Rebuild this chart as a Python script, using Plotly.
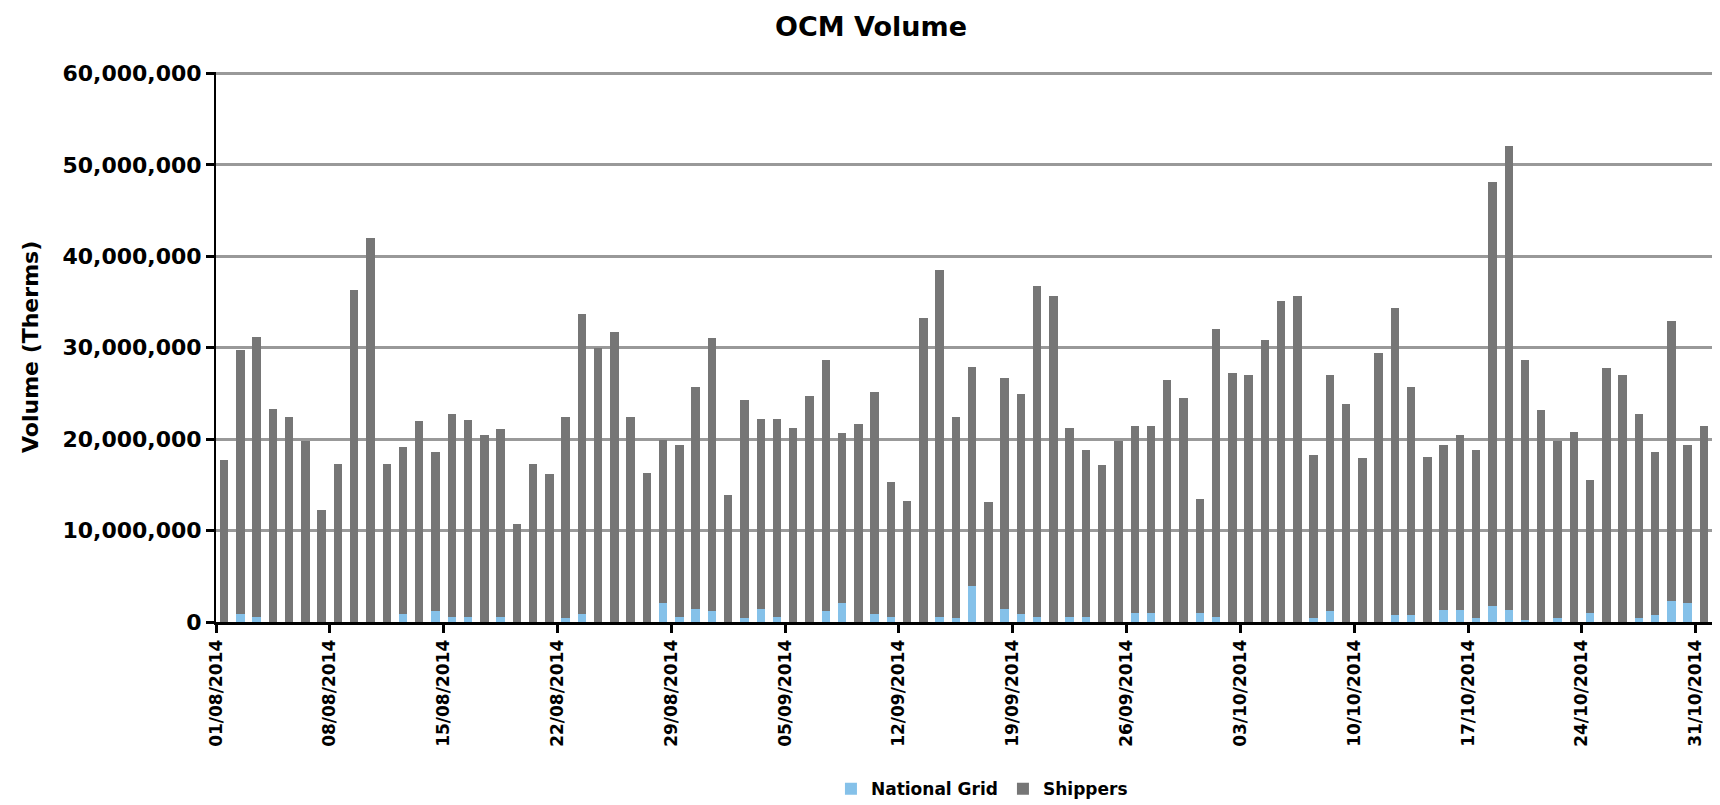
import datetime as dt
import plotly.graph_objects as go

# ---- data (millions of therms) ----
start = dt.date(2014, 8, 1)
n_days = 92
dates = [(start + dt.timedelta(days=i)).isoformat() for i in range(n_days)]

total_m = [
    # August
    17.7, 29.7, 31.2, 23.3, 22.4, 19.8, 12.2, 17.3, 36.3, 42.0,
    17.3, 19.1, 22.0, 18.6, 22.7, 22.1, 20.4, 21.1, 10.7, 17.3,
    16.2, 22.4, 33.7, 30.0, 31.7, 22.4, 16.3, 19.9, 19.4, 25.7, 31.1,
    # September
    13.9, 24.3, 22.2, 22.2, 21.2, 24.7, 28.7, 20.7, 21.6, 25.1,
    15.3, 13.2, 33.2, 38.5, 22.4, 27.9, 13.1, 26.7, 24.9, 36.7,
    35.7, 21.2, 18.8, 17.2, 19.8, 21.4, 21.4, 26.5, 24.5, 13.5,
    # October
    32.0, 27.2, 27.0, 30.8, 35.1, 35.7, 18.3, 27.0, 23.8, 17.9,
    29.4, 34.3, 25.7, 18.0, 19.4, 20.4, 18.8, 48.1, 52.1, 28.7,
    23.2, 19.8, 20.8, 15.5, 27.8, 27.0, 22.7, 18.6, 32.9, 19.4, 21.4,
]

national_grid_m = [
    # August
    0.0, 0.9, 0.6, 0.0, 0.0, 0.0, 0.0, 0.0, 0.0, 0.0,
    0.0, 0.9, 0.0, 1.2, 0.6, 0.6, 0.0, 0.6, 0.0, 0.0,
    0.0, 0.4, 0.9, 0.0, 0.0, 0.0, 0.0, 2.1, 0.6, 1.4, 1.2,
    # September
    0.0, 0.4, 1.4, 0.6, 0.0, 0.0, 1.2, 2.1, 0.0, 0.9,
    0.5, 0.0, 0.0, 0.6, 0.4, 3.9, 0.0, 1.4, 0.9, 0.6,
    0.0, 0.5, 0.6, 0.0, 0.0, 1.0, 1.0, 0.0, 0.0, 1.0,
    # October
    0.5, 0.0, 0.0, 0.0, 0.0, 0.0, 0.4, 1.2, 0.0, 0.0,
    0.0, 0.8, 0.8, 0.0, 1.3, 1.3, 0.4, 1.7, 1.3, 0.2,
    0.0, 0.4, 0.0, 1.0, 0.0, 0.0, 0.4, 0.8, 2.3, 2.1, 0.0,
]

national_grid = [v * 1e6 for v in national_grid_m]
shippers = [(t - g) * 1e6 for t, g in zip(total_m, national_grid_m)]

tick_dates = [(start + dt.timedelta(days=7 * k)).isoformat() for k in range(14)]
y_ticks = [0, 10e6, 20e6, 30e6, 40e6, 50e6, 60e6]

NG_COLOR = "#85C1E9"
SH_COLOR = "#767676"
FONT = "DejaVu Sans"

fig = go.Figure()
fig.add_trace(go.Bar(
    x=dates, y=national_grid, name="National Grid",
    marker=dict(color=NG_COLOR, line=dict(width=0)),
    xperiod=86400000, xperiodalignment="middle",
))
fig.add_trace(go.Bar(
    x=dates, y=shippers, name="Shippers",
    marker=dict(color=SH_COLOR, line=dict(width=0)),
    xperiod=86400000, xperiodalignment="middle",
))

fig.update_layout(
    width=1720, height=805,
    barmode="stack", bargap=0.48,
    plot_bgcolor="white", paper_bgcolor="white",
    margin=dict(l=216, r=8, t=72, b=183, autoexpand=False),
    title=dict(
        text="OCM Volume", x=871 / 1720, xanchor="center",
        y=1 - 27 / 805, yanchor="middle",
        font=dict(family=FONT, size=27, color="black", weight="bold"),
    ),
    legend=dict(
        orientation="h", x=0.512, xanchor="center",
        y=-0.304, yanchor="middle",
        font=dict(family=FONT, size=17, color="black", weight="bold"),
        itemwidth=30, traceorder="normal",
    ),
    xaxis=dict(
        type="date", automargin=False,
        range=[start.isoformat(), (start + dt.timedelta(days=n_days)).isoformat()],
        tickmode="array", tickvals=tick_dates, tickformat="%d/%m/%Y",
        tickangle=-90,
        tickfont=dict(family=FONT, size=17, color="black", weight="bold"),
        showgrid=False, showline=True, linecolor="black", linewidth=3,
        ticks="outside", ticklen=8, tickwidth=2.5, tickcolor="black",
        zeroline=False,
    ),
    yaxis=dict(
        automargin=False,
        range=[0, 60.15e6], tickmode="array", tickvals=y_ticks,
        tickformat=",d",
        tickfont=dict(family=FONT, size=22, color="black", weight="bold"),
        showgrid=True, gridcolor="#999999", gridwidth=3,
        showline=True, linecolor="black", linewidth=2,
        ticks="outside", ticklen=8, tickwidth=2.5, tickcolor="black",
        zeroline=False,
    ),
    annotations=[dict(
        text="Volume (Therms)", textangle=-90,
        xref="paper", yref="paper", x=(30 - 216) / 1496, y=0.5,
        xanchor="center", yanchor="middle", showarrow=False,
        font=dict(family=FONT, size=22, color="black", weight="bold"),
    )],
)

fig.write_html(
    "out.html",
    config={"displayModeBar": False},
    post_script="document.body.style.margin='0';",
)
